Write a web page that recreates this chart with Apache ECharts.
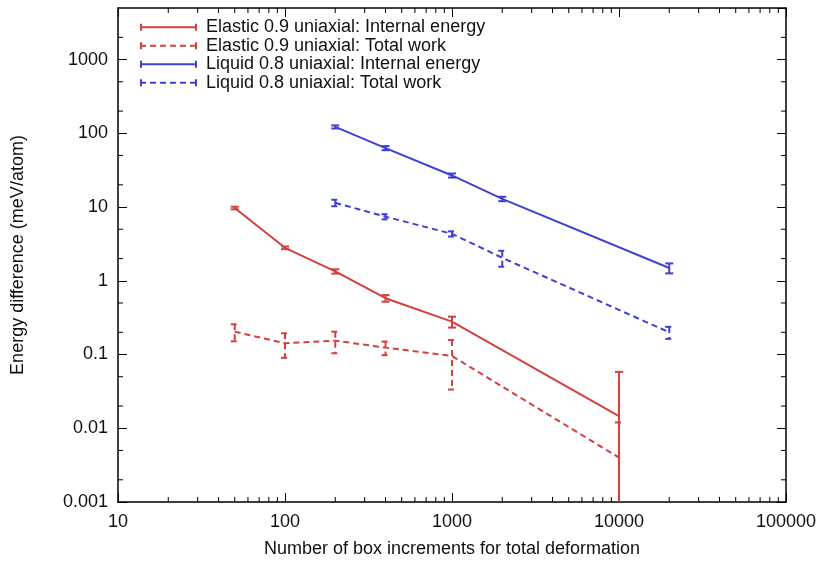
<!DOCTYPE html>
<html>
<head>
<meta charset="utf-8">
<title>Energy difference vs. box increments</title>
<script src="https://cdn.jsdelivr.net/npm/echarts@6/dist/echarts.min.js"></script>
<style>
  html, body { margin: 0; padding: 0; background: #fff; }
  #chart { width: 819px; height: 563px; }
</style>
</head>
<body>
<div id="chart"></div>
<script>
// Box increments used for each simulation set
const elasticX = [50, 100, 200, 400, 1000, 10000];
const liquidX = [200, 400, 1000, 2000, 20000];

// Energy differences (meV/atom) and their error bars
const elasticInternal = [9.7, 2.8, 1.34, 0.58, 0.279, 0.0146];
const elasticInternalErr = [0.4, 0.12, 0.09, 0.06, 0.047, 0.0435];
const elasticWork = [0.204, 0.142, 0.154, 0.124, 0.0955, 0.0040];
const elasticWorkErr = [0.053, 0.052, 0.05, 0.026, 0.062, 0.008];

const liquidInternal = [122, 63, 26.8, 12.9, 1.49];
const liquidInternalErr = [6, 4, 1.7, 0.9, 0.23];
const liquidWork = [11.4, 7.4, 4.33, 2.05, 0.2];
const liquidWorkErr = [1.15, 0.6, 0.35, 0.5, 0.037];

const seriesNames = [
  'Elastic 0.9 uniaxial: Internal energy',
  'Elastic 0.9 uniaxial: Total work',
  'Liquid 0.8 uniaxial: Internal energy',
  'Liquid 0.8 uniaxial: Total work'
];

// Axis ranges and tick layout
const xRange = [10, 100000];
const yRange = [0.001, 5000];
const xMinorSteps = [2, 3, 4, 5, 6, 7, 8, 9];
const yMinorSteps = [2, 5];

const RED = '#d43f3f';
const BLUE = '#4040d4';
const DASH = [6, 4];
const FONT = 'Liberation Sans, Arial, Helvetica, sans-serif';
const FS = 18;

function pairs(xs, ys) { return xs.map((x, i) => [x, ys[i]]); }
function triples(xs, ys, es) { return xs.map((x, i) => [x, ys[i], es[i]]); }

function minorValues(range, steps) {
  const out = [];
  const lo = Math.floor(Math.log10(range[0]));
  const hi = Math.ceil(Math.log10(range[1]));
  for (let e = lo; e <= hi; e++) {
    steps.forEach(s => {
      const v = s * Math.pow(10, e);
      if (v > range[0] && v < range[1]) out.push(v);
    });
  }
  return out;
}

function decadeLabel(v) {
  const e = Math.log10(v);
  if (Math.abs(e - Math.round(e)) > 1e-6) return '';
  return String(Number(v.toPrecision(6)));
}

// Vertical error bar with end caps; dashed sets use dashed bars too
function errorBars(color, dash) {
  return function (params, api) {
    const x = api.value(0), y = api.value(1), e = api.value(2);
    const hi = api.coord([x, y + e]);
    const lo = api.coord([x, Math.max(y - e, 1e-12)]);
    const hw = 4;
    const style = { stroke: color, lineWidth: 2, lineDash: dash, fill: null };
    return {
      type: 'group',
      children: [
        { type: 'line', shape: { x1: hi[0], y1: hi[1], x2: lo[0], y2: lo[1] }, style },
        { type: 'line', shape: { x1: hi[0] - hw, y1: hi[1], x2: hi[0] + hw, y2: hi[1] }, style },
        { type: 'line', shape: { x1: lo[0] - hw, y1: lo[1], x2: lo[0] + hw, y2: lo[1] }, style }
      ]
    };
  };
}

// Inward minor ticks on the mirrored frame
function xMinorTicks(params, api) {
  const cs = params.coordSys;
  const px = api.coord([api.value(0), 1])[0];
  const style = { stroke: '#000', lineWidth: 1 };
  const b = cs.y + cs.height;
  return {
    type: 'group',
    children: [
      { type: 'line', shape: { x1: px, y1: b, x2: px, y2: b - 5 }, style },
      { type: 'line', shape: { x1: px, y1: cs.y, x2: px, y2: cs.y + 5 }, style }
    ]
  };
}
function yMinorTicks(params, api) {
  const cs = params.coordSys;
  const py = api.coord([100, api.value(1)])[1];
  const style = { stroke: '#000', lineWidth: 1 };
  const r = cs.x + cs.width;
  return {
    type: 'group',
    children: [
      { type: 'line', shape: { x1: cs.x, y1: py, x2: cs.x + 5, y2: py }, style },
      { type: 'line', shape: { x1: r, y1: py, x2: r - 5, y2: py }, style }
    ]
  };
}

const solidIcon = 'path://M0,1.5h2v7h-2z M0,4h57v2h-57z M55,1.5h2v7h-2z';
const dashedIcon = 'path://M0,1.5h2v2.5h-2z M0,6h2v2.5h-2z M0,4h6v2h-6z M10,4h6v2h-6z M20,4h6v2h-6z M30,4h6v2h-6z M40,4h6v2h-6z M50,4h7v2h-7z M55,1.5h2v2.5h-2z M55,6h2v2.5h-2z';

const axisCommon = {
  type: 'log',
  logBase: 10,
  axisLine: { show: true, lineStyle: { color: '#000', width: 1.5 } },
  axisTick: { show: true, inside: true, length: 9, lineStyle: { color: '#000', width: 1 } },
  splitLine: { show: false },
  minorTick: { show: false },
  minorSplitLine: { show: false }
};

const chart = echarts.init(document.getElementById('chart'), null, { renderer: 'canvas' });

chart.setOption({
  animation: false,
  backgroundColor: '#fff',
  textStyle: { fontFamily: FONT },
  grid: { left: 118, right: 32, top: 8, bottom: 61 },
  legend: {
    orient: 'vertical',
    left: 140,
    top: 18,
    padding: 0,
    itemGap: 0,
    itemWidth: 57,
    itemHeight: 10,
    symbolKeepAspect: true,
    selectedMode: false,
    textStyle: { fontSize: FS, color: '#111', fontFamily: FONT, lineHeight: 18.5, padding: [0, 0, 0, 4] },
    data: [
      { name: seriesNames[0], icon: solidIcon, itemStyle: { color: RED } },
      { name: seriesNames[1], icon: dashedIcon, itemStyle: { color: RED } },
      { name: seriesNames[2], icon: solidIcon, itemStyle: { color: BLUE } },
      { name: seriesNames[3], icon: dashedIcon, itemStyle: { color: BLUE } }
    ]
  },
  xAxis: [
    Object.assign({}, axisCommon, {
      position: 'bottom',
      min: xRange[0], max: xRange[1], interval: 1,
      name: 'Number of box increments for total deformation',
      nameLocation: 'middle',
      nameGap: 38,
      nameTextStyle: { fontSize: FS, color: '#111', fontFamily: FONT },
      axisLabel: { show: true, fontSize: FS, color: '#111', margin: 11, fontFamily: FONT, formatter: decadeLabel }
    }),
    Object.assign({}, axisCommon, {
      position: 'top',
      min: xRange[0], max: xRange[1], interval: 1,
      axisLabel: { show: false }
    })
  ],
  yAxis: [
    Object.assign({}, axisCommon, {
      position: 'left',
      min: yRange[0], max: yRange[1], interval: 1,
      name: 'Energy difference (meV/atom)',
      nameLocation: 'middle',
      nameGap: 91,
      nameRotate: 90,
      nameTextStyle: { fontSize: FS, color: '#111', fontFamily: FONT },
      axisLabel: { show: true, fontSize: FS, color: '#111', margin: 10, fontFamily: FONT, formatter: decadeLabel, showMaxLabel: false }
    }),
    Object.assign({}, axisCommon, {
      position: 'right',
      min: yRange[0], max: yRange[1], interval: 1,
      axisLabel: { show: false }
    })
  ],
  series: [
    {
      name: seriesNames[0], type: 'line', data: pairs(elasticX, elasticInternal),
      symbol: 'none', color: RED, lineStyle: { color: RED, width: 2 }, z: 3
    },
    {
      name: seriesNames[1], type: 'line', data: pairs(elasticX, elasticWork),
      symbol: 'none', color: RED, lineStyle: { color: RED, width: 2, type: DASH }, z: 3
    },
    {
      name: seriesNames[2], type: 'line', data: pairs(liquidX, liquidInternal),
      symbol: 'none', color: BLUE, lineStyle: { color: BLUE, width: 2 }, z: 3
    },
    {
      name: seriesNames[3], type: 'line', data: pairs(liquidX, liquidWork),
      symbol: 'none', color: BLUE, lineStyle: { color: BLUE, width: 2, type: DASH }, z: 3
    },
    {
      name: 'elastic-internal-err', type: 'custom', clip: true, silent: true, z: 4,
      renderItem: errorBars(RED, null), encode: { x: 0, y: 1 },
      data: triples(elasticX, elasticInternal, elasticInternalErr)
    },
    {
      name: 'elastic-work-err', type: 'custom', clip: true, silent: true, z: 4,
      renderItem: errorBars(RED, DASH), encode: { x: 0, y: 1 },
      data: triples(elasticX, elasticWork, elasticWorkErr)
    },
    {
      name: 'liquid-internal-err', type: 'custom', clip: true, silent: true, z: 4,
      renderItem: errorBars(BLUE, null), encode: { x: 0, y: 1 },
      data: triples(liquidX, liquidInternal, liquidInternalErr)
    },
    {
      name: 'liquid-work-err', type: 'custom', clip: true, silent: true, z: 4,
      renderItem: errorBars(BLUE, DASH), encode: { x: 0, y: 1 },
      data: triples(liquidX, liquidWork, liquidWorkErr)
    },
    {
      name: 'x-minor-ticks', type: 'custom', silent: true, z: 5,
      renderItem: xMinorTicks, encode: { x: 0, y: 1 },
      data: minorValues(xRange, xMinorSteps).map(v => [v, 1])
    },
    {
      name: 'y-minor-ticks', type: 'custom', silent: true, z: 5,
      renderItem: yMinorTicks, encode: { x: 0, y: 1 },
      data: minorValues(yRange, yMinorSteps).map(v => [100, v])
    }
  ]
});
</script>
</body>
</html>
